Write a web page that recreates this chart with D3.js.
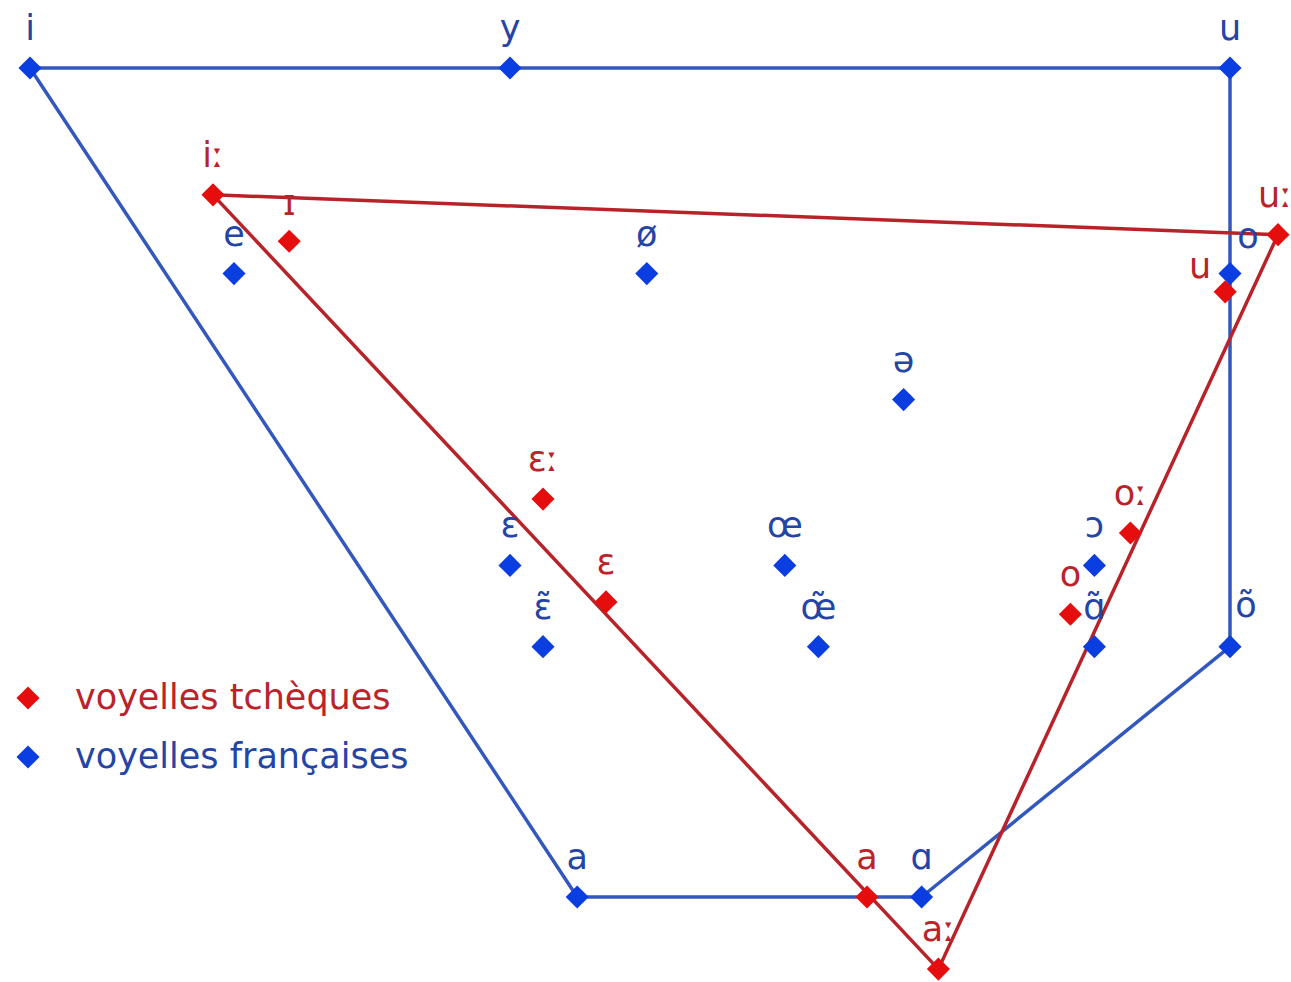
<!DOCTYPE html>
<html>
<head>
<meta charset="utf-8">
<script src="https://cdn.jsdelivr.net/npm/d3@7"></script>
<style>
  body { margin: 0; background: #fff; }
  svg { display: block; font-family: "DejaVu Sans", sans-serif; }
</style>
</head>
<body>
<div class="chart"></div>
<script>
// vowel positions in chart units: x = front (0) .. back (100), y = close (0) .. open (100)
const frenchVowels = ["i", "y", "u", "e", "ø", "o", "ə", "ɛ", "œ", "ɔ", "ɛ̃", "œ̃", "ɑ̃", "õ", "a", "ɑ"]
const frenchX = [0, 40, 100, 17, 51.4, 100, 72.8, 40, 62.9, 88.7, 42.75, 65.7, 88.7, 100, 45.6, 74.3]
const frenchY = [0, 0, 0, 24.8, 24.8, 24.8, 40, 60, 60, 60, 69.8, 69.8, 69.8, 69.8, 100, 100]
const frenchOutline = ["i", "y", "u", "o", "õ", "ɑ", "a", "i"]

const czechVowels = ["iː", "ɪ", "uː", "u", "ɛː", "ɛ", "oː", "o", "a", "aː"]
const czechX = [15.25, 21.6, 104, 99.6, 42.75, 48, 91.7, 86.7, 69.75, 75.7]
const czechY = [15.3, 20.9, 20.1, 27, 52, 64.4, 56.1, 65.9, 100, 108.7]
const czechOutline = ["iː", "uː", "aː", "iː"]

const legendLabels = ["voyelles tchèques", "voyelles françaises"]

const drawChart = () => {
  const width = 1291
  const height = 982

  const colors = {
    blueLine: "#3358bd",
    bluePoint: "#0a3ee0",
    blueText: "#2444a8",
    redLine: "#b8232a",
    redPoint: "#e50d0d",
    redText: "#bb222a"
  }

  const xScale = d3.scaleLinear().domain([0, 100]).range([30, 1230])
  const yScale = d3.scaleLinear().domain([0, 100]).range([68, 897])

  const french = frenchVowels.map((v, i) => ({ v, x: frenchX[i], y: frenchY[i] }))
  const czech = czechVowels.map((v, i) => ({ v, x: czechX[i], y: czechY[i] }))

  // label nudges (px) for labels that do not sit straight above their point
  const nudgeFr = { "o": [18, 2], "õ": [16, -2] }
  const nudgeCz = { "u": [-25, 14], "uː": [-3, 0], "ɪ": [0, 2] }

  const line = d3.line()
    .x(d => xScale(d.x))
    .y(d => yScale(d.y))

  const svg = d3.select(".chart").append("svg")
      .attr("width", width)
      .attr("height", height)

  svg.append("rect")
      .attr("width", width)
      .attr("height", height)
      .attr("fill", "#fff")

  const byName = (arr, name) => arr.find(d => d.v === name)

  svg.append("path")
      .attr("d", line(frenchOutline.map(n => byName(french, n))))
      .attr("fill", "none")
      .attr("stroke", colors.blueLine)
      .attr("stroke-width", 3.5)
      .attr("stroke-linejoin", "round")

  svg.append("path")
      .attr("d", line(czechOutline.map(n => byName(czech, n))))
      .attr("fill", "none")
      .attr("stroke", colors.redLine)
      .attr("stroke-width", 3.5)
      .attr("stroke-linejoin", "round")

  const diamond = d3.symbol().type(d3.symbolDiamond2).size(340)

  const drawSet = (data, pointColor, textColor, nudge) => {
    const g = svg.append("g")
    g.selectAll("path")
      .data(data)
      .join("path")
        .attr("d", diamond)
        .attr("transform", d => `translate(${xScale(d.x)},${yScale(d.y)})`)
        .attr("fill", pointColor)

    g.selectAll("text")
      .data(data)
      .join("text")
        .attr("x", d => xScale(d.x) + (nudge[d.v] ? nudge[d.v][0] : 0))
        .attr("y", d => yScale(d.y) - 28 + (nudge[d.v] ? nudge[d.v][1] : 0))
        .attr("text-anchor", "middle")
        .attr("font-size", 35)
        .attr("fill", textColor)
        .text(d => d.v)
  }

  drawSet(french, colors.bluePoint, colors.blueText, nudgeFr)
  drawSet(czech, colors.redPoint, colors.redText, nudgeCz)

  // legend
  const legend = svg.append("g").attr("transform", "translate(28, 698)")
  const legendColors = [[colors.redPoint, colors.redText], [colors.bluePoint, colors.blueText]]

  const items = legend.selectAll("g")
    .data(legendLabels)
    .join("g")
      .attr("transform", (d, i) => `translate(0, ${i * 59})`)

  items.append("path")
      .attr("d", diamond)
      .attr("fill", (d, i) => legendColors[i][0])

  items.append("text")
      .attr("x", 47)
      .attr("y", 11)
      .attr("font-size", 35)
      .attr("fill", (d, i) => legendColors[i][1])
      .text(d => d)
}
drawChart()
</script>
</body>
</html>
